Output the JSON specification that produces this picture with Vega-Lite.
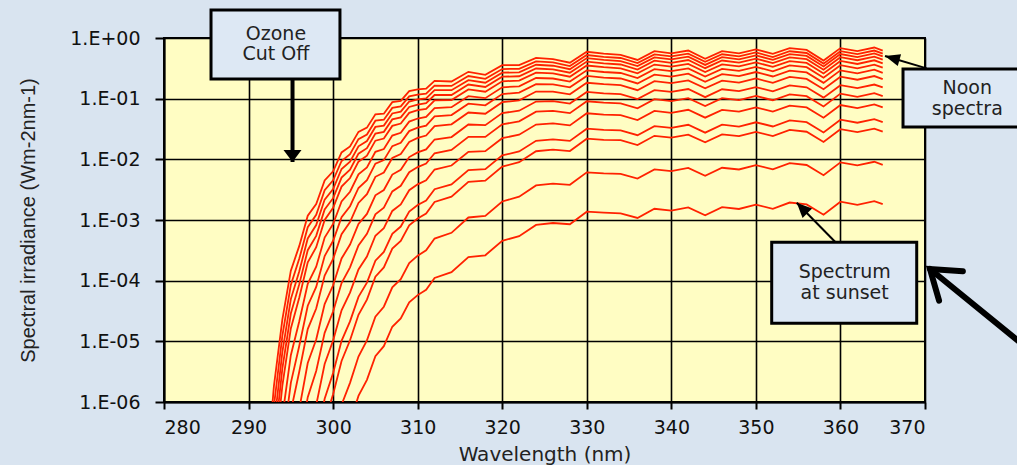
{
  "$schema": "https://vega.github.io/schema/vega-lite/v6.json",
  "width": 761,
  "height": 364,
  "autosize": {"type": "none"},
  "padding": {"left": 164, "top": 38, "right": 92, "bottom": 63},
  "background": "#D9E4F0",
  "config": {
    "view": {"fill": "#FFFDC3", "stroke": "#000000", "strokeWidth": 2},
    "axis": {
      "grid": true, "gridColor": "#000000", "gridWidth": 1.6, "gridOpacity": 1,
      "domainColor": "#000000", "domainWidth": 2,
      "tickColor": "#000000", "tickWidth": 2,
      "labelFont": "DejaVu Sans", "labelFontSize": 19, "labelColor": "#111111",
      "titleColor": "#222222", "titleFontWeight": "normal"
    }
  },
  "datasets": {
    "spectra": [
      {"w": 292, "c1": 4.1e-8, "c2": 1.6e-8},
      {"w": 293, "c1": 1.83e-6, "c2": 8.6e-7, "c3": 4.0e-7, "c4": 1.9e-7, "c5": 8.6e-8},
      {"w": 294, "c1": 2.31e-5, "c2": 1.24e-5, "c3": 6.7e-6, "c4": 3.57e-6, "c5": 1.87e-6, "c6": 5.8e-7, "c7": 1.7e-7},
      {"w": 295, "c1": 1.46e-4, "c2": 8.5e-5, "c3": 4.97e-5, "c4": 2.87e-5, "c5": 1.63e-5, "c6": 5.9e-6, "c7": 2.07e-6, "c8": 7.0e-7},
      {"w": 296, "c1": 3.74e-4, "c2": 2.31e-4, "c3": 1.43e-4, "c4": 8.77e-5, "c5": 5.27e-5, "c6": 2.14e-5, "c7": 8.45e-6, "c8": 3.18e-6, "c9": 7.7e-7, "c10": 1.8e-7},
      {"w": 297, "c1": 1.18e-3, "c2": 7.6e-4, "c3": 4.97e-4, "c4": 3.18e-4, "c5": 2.0e-4, "c6": 8.9e-5, "c7": 3.86e-5, "c8": 1.59e-5, "c9": 4.4e-6, "c10": 1.2e-6, "c11": 3.0e-7},
      {"w": 298, "c1": 1.83e-3, "c2": 1.22e-3, "c3": 8.24e-4, "c4": 5.47e-4, "c5": 3.56e-4, "c6": 1.7e-4, "c7": 7.9e-5, "c8": 3.48e-5, "c9": 1.07e-5, "c10": 3.24e-6, "c11": 8.9e-7, "c12": 2.2e-7},
      {"w": 299, "c1": 4.5e-3, "c2": 3.11e-3, "c3": 2.17e-3, "c4": 1.49e-3, "c5": 1.0e-3, "c6": 5.14e-4, "c7": 2.55e-4, "c8": 1.21e-4, "c9": 4.11e-5, "c10": 1.38e-5, "c11": 4.22e-6, "c12": 1.13e-6, "c13": 4.8e-7},
      {"w": 300, "c1": 6.35e-3, "c2": 4.52e-3, "c3": 3.24e-3, "c4": 2.29e-3, "c5": 1.59e-3, "c6": 8.6e-4, "c7": 4.54e-4, "c8": 2.28e-4, "c9": 8.4e-5, "c10": 3.1e-5, "c11": 1.03e-5, "c12": 3.0e-6, "c13": 1.34e-6, "c14": 2.4e-7},
      {"w": 301, "c1": 1.30e-2, "c2": 9.4e-3, "c3": 6.93e-3, "c4": 5.0e-3, "c5": 3.56e-3, "c6": 2.02e-3, "c7": 1.11e-3, "c8": 5.85e-4, "c9": 2.32e-4, "c10": 9.14e-5, "c11": 3.25e-5, "c12": 1.02e-5, "c13": 4.75e-6, "c14": 9.0e-7},
      {"w": 302, "c1": 1.63e-2, "c2": 1.22e-2, "c3": 9.14e-3, "c4": 6.77e-3, "c5": 4.92e-3, "c6": 2.92e-3, "c7": 1.69e-3, "c8": 9.27e-4, "c9": 3.94e-4, "c10": 1.66e-4, "c11": 6.34e-5, "c12": 2.13e-5, "c13": 1.04e-5, "c14": 2.07e-6, "c15": 4.6e-7},
      {"w": 303, "c1": 2.84e-2, "c2": 2.15e-2, "c3": 1.64e-2, "c4": 1.24e-2, "c5": 9.16e-3, "c6": 5.64e-3, "c7": 3.37e-3, "c8": 1.91e-3, "c9": 8.6e-4, "c10": 3.81e-4, "c11": 1.53e-4, "c12": 5.41e-5, "c13": 2.74e-5, "c14": 5.62e-6, "c15": 1.26e-6},
      {"w": 304, "c1": 3.33e-2, "c2": 2.57e-2, "c3": 2.0e-2, "c4": 1.53e-2, "c5": 1.15e-2, "c6": 7.35e-3, "c7": 4.54e-3, "c8": 2.67e-3, "c9": 1.26e-3, "c10": 5.9e-4, "c11": 2.5e-4, "c12": 9.29e-5, "c13": 4.86e-5, "c14": 1.04e-5, "c15": 2.32e-6},
      {"w": 305, "c1": 5.53e-2, "c2": 4.34e-2, "c3": 3.42e-2, "c4": 2.66e-2, "c5": 2.03e-2, "c6": 1.33e-2, "c7": 8.5e-3, "c8": 5.15e-3, "c9": 2.55e-3, "c10": 1.24e-3, "c11": 5.51e-4, "c12": 2.14e-4, "c13": 1.16e-4, "c14": 2.54e-5, "c15": 5.68e-6},
      {"w": 306, "c1": 5.66e-2, "c2": 4.5e-2, "c3": 3.6e-2, "c4": 2.84e-2, "c5": 2.2e-2, "c6": 1.48e-2, "c7": 9.7e-3, "c8": 6.05e-3, "c9": 3.12e-3, "c10": 1.59e-3, "c11": 7.33e-4, "c12": 2.97e-4, "c13": 1.65e-4, "c14": 3.72e-5, "c15": 8.32e-6},
      {"w": 307, "c1": 8.77e-2, "c2": 7.05e-2, "c3": 5.7e-2, "c4": 4.55e-2, "c5": 3.56e-2, "c6": 2.46e-2, "c7": 1.65e-2, "c8": 1.05e-2, "c9": 5.61e-3, "c10": 2.96e-3, "c11": 1.41e-3, "c12": 5.93e-4, "c13": 3.37e-4, "c14": 7.76e-5, "c15": 1.74e-5},
      {"w": 308, "c1": 9.18e-2, "c2": 7.45e-2, "c3": 6.1e-2, "c4": 4.91e-2, "c5": 3.89e-2, "c6": 2.74e-2, "c7": 1.87e-2, "c8": 1.22e-2, "c9": 6.71e-3, "c10": 3.66e-3, "c11": 1.8e-3, "c12": 7.8e-4, "c13": 4.52e-4, "c14": 1.06e-4, "c15": 2.38e-5},
      {"w": 309, "c1": 0.133, "c2": 0.109, "c3": 8.97e-2, "c4": 7.3e-2, "c5": 5.83e-2, "c6": 4.19e-2, "c7": 2.92e-2, "c8": 1.94e-2, "c9": 1.09e-2, "c10": 6.12e-3, "c11": 3.1e-3, "c12": 1.38e-3, "c13": 8.15e-4, "c14": 1.95e-4, "c15": 4.38e-5},
      {"w": 310, "c1": 0.142, "c2": 0.117, "c3": 9.77e-2, "c4": 8.0e-2, "c5": 6.46e-2, "c6": 4.71e-2, "c7": 3.33e-2, "c8": 2.25e-2, "c9": 1.3e-2, "c10": 7.46e-3, "c11": 3.87e-3, "c12": 1.77e-3, "c13": 1.06e-3, "c14": 2.58e-4, "c15": 5.78e-5},
      {"w": 311, "c1": 0.146, "c2": 0.121, "c3": 0.101, "c4": 8.4e-2, "c5": 6.79e-2, "c6": 5.02e-2, "c7": 3.6e-2, "c8": 2.47e-2, "c9": 1.46e-2, "c10": 8.53e-3, "c11": 4.52e-3, "c12": 2.1e-3, "c13": 1.28e-3, "c14": 3.16e-4, "c15": 7.08e-5},
      {"w": 312, "c1": 0.196, "c2": 0.164, "c3": 0.138, "c4": 0.115, "c5": 9.38e-2, "c6": 7.0e-2, "c7": 5.09e-2, "c8": 3.52e-2, "c9": 2.12e-2, "c10": 1.26e-2, "c11": 6.79e-3, "c12": 3.22e-3, "c13": 1.98e-3, "c14": 4.95e-4, "c15": 1.11e-4},
      {"w": 314, "c1": 0.192, "c2": 0.162, "c3": 0.138, "c4": 0.115, "c5": 9.5e-2, "c6": 7.24e-2, "c7": 5.36e-2, "c8": 3.78e-2, "c9": 2.33e-2, "c10": 1.43e-2, "c11": 7.91e-3, "c12": 3.85e-3, "c13": 2.42e-3, "c14": 6.15e-4, "c15": 1.38e-4},
      {"w": 316, "c1": 0.277, "c2": 0.236, "c3": 0.202, "c4": 0.171, "c5": 0.142, "c6": 0.11, "c7": 8.26e-2, "c8": 5.92e-2, "c9": 3.75e-2, "c10": 2.35e-2, "c11": 1.33e-2, "c12": 6.65e-3, "c13": 4.24e-3, "c14": 1.1e-3, "c15": 2.45e-4},
      {"w": 318, "c1": 0.247, "c2": 0.212, "c3": 0.183, "c4": 0.156, "c5": 0.13, "c6": 0.102, "c7": 7.78e-2, "c8": 5.65e-2, "c9": 3.66e-2, "c10": 2.34e-2, "c11": 1.36e-2, "c12": 6.9e-3, "c13": 4.46e-3, "c14": 1.17e-3, "c15": 2.62e-4},
      {"w": 320, "c1": 0.357, "c2": 0.308, "c3": 0.268, "c4": 0.23, "c5": 0.193, "c6": 0.154, "c7": 0.119, "c8": 8.75e-2, "c9": 5.78e-2, "c10": 3.78e-2, "c11": 2.23e-2, "c12": 1.16e-2, "c13": 7.6e-3, "c14": 2.02e-3, "c15": 4.53e-4},
      {"w": 322, "c1": 0.357, "c2": 0.31, "c3": 0.272, "c4": 0.234, "c5": 0.199, "c6": 0.16, "c7": 0.126, "c8": 9.38e-2, "c9": 6.32e-2, "c10": 4.22e-2, "c11": 2.55e-2, "c12": 1.35e-2, "c13": 8.97e-3, "c14": 2.42e-3, "c15": 5.42e-4},
      {"w": 324, "c1": 0.471, "c2": 0.412, "c3": 0.362, "c4": 0.314, "c5": 0.268, "c6": 0.219, "c7": 0.173, "c8": 0.131, "c9": 8.97e-2, "c10": 6.1e-2, "c11": 3.74e-2, "c12": 2.02e-2, "c13": 1.36e-2, "c14": 3.71e-3, "c15": 8.3e-4},
      {"w": 326, "c1": 0.45, "c2": 0.395, "c3": 0.349, "c4": 0.304, "c5": 0.261, "c6": 0.215, "c7": 0.172, "c8": 0.131, "c9": 9.1e-2, "c10": 6.27e-2, "c11": 3.9e-2, "c12": 2.14e-2, "c13": 1.45e-2, "c14": 3.99e-3, "c15": 8.93e-4},
      {"w": 328, "c1": 0.392, "c2": 0.345, "c3": 0.306, "c4": 0.268, "c5": 0.23, "c6": 0.191, "c7": 0.154, "c8": 0.118, "c9": 8.3e-2, "c10": 5.77e-2, "c11": 3.63e-2, "c12": 2.01e-2, "c13": 1.37e-2, "c14": 3.8e-3, "c15": 8.51e-4},
      {"w": 330, "c1": 0.593, "c2": 0.524, "c3": 0.466, "c4": 0.408, "c5": 0.352, "c6": 0.293, "c7": 0.237, "c8": 0.183, "c9": 0.129, "c10": 9.06e-2, "c11": 5.74e-2, "c12": 3.2e-2, "c13": 2.19e-2, "c14": 6.11e-3, "c15": 1.37e-3},
      {"w": 332, "c1": 0.553, "c2": 0.49, "c3": 0.436, "c4": 0.382, "c5": 0.33, "c6": 0.275, "c7": 0.223, "c8": 0.173, "c9": 0.122, "c10": 8.61e-2, "c11": 5.47e-2, "c12": 3.06e-2, "c13": 2.1e-2, "c14": 5.87e-3, "c15": 1.32e-3},
      {"w": 334, "c1": 0.528, "c2": 0.468, "c3": 0.417, "c4": 0.366, "c5": 0.316, "c6": 0.265, "c7": 0.215, "c8": 0.167, "c9": 0.119, "c10": 8.38e-2, "c11": 5.35e-2, "c12": 3.0e-2, "c13": 2.07e-2, "c14": 5.78e-3, "c15": 1.29e-3},
      {"w": 336, "c1": 0.435, "c2": 0.385, "c3": 0.344, "c4": 0.302, "c5": 0.261, "c6": 0.219, "c7": 0.178, "c8": 0.138, "c9": 9.84e-2, "c10": 6.95e-2, "c11": 4.45e-2, "c12": 2.5e-2, "c13": 1.72e-2, "c14": 4.82e-3, "c15": 1.08e-3},
      {"w": 338, "c1": 0.607, "c2": 0.537, "c3": 0.48, "c4": 0.422, "c5": 0.365, "c6": 0.306, "c7": 0.249, "c8": 0.194, "c9": 0.138, "c10": 9.79e-2, "c11": 6.27e-2, "c12": 3.53e-2, "c13": 2.44e-2, "c14": 6.84e-3, "c15": 1.53e-3},
      {"w": 340, "c1": 0.56, "c2": 0.497, "c3": 0.443, "c4": 0.39, "c5": 0.337, "c6": 0.284, "c7": 0.231, "c8": 0.18, "c9": 0.129, "c10": 9.12e-2, "c11": 5.85e-2, "c12": 3.3e-2, "c13": 2.28e-2, "c14": 6.4e-3, "c15": 1.43e-3},
      {"w": 342, "c1": 0.621, "c2": 0.551, "c3": 0.492, "c4": 0.434, "c5": 0.375, "c6": 0.315, "c7": 0.258, "c8": 0.2, "c9": 0.144, "c10": 0.102, "c11": 6.56e-2, "c12": 3.71e-2, "c13": 2.56e-2, "c14": 7.21e-3, "c15": 1.61e-3},
      {"w": 344, "c1": 0.455, "c2": 0.404, "c3": 0.36, "c4": 0.318, "c5": 0.275, "c6": 0.232, "c7": 0.19, "c8": 0.148, "c9": 0.106, "c10": 7.55e-2, "c11": 4.86e-2, "c12": 2.75e-2, "c13": 1.91e-2, "c14": 5.36e-3, "c15": 1.2e-3},
      {"w": 346, "c1": 0.607, "c2": 0.539, "c3": 0.482, "c4": 0.425, "c5": 0.368, "c6": 0.31, "c7": 0.254, "c8": 0.198, "c9": 0.143, "c10": 0.102, "c11": 6.55e-2, "c12": 3.72e-2, "c13": 2.58e-2, "c14": 7.26e-3, "c15": 1.63e-3},
      {"w": 348, "c1": 0.56, "c2": 0.498, "c3": 0.445, "c4": 0.393, "c5": 0.34, "c6": 0.288, "c7": 0.236, "c8": 0.184, "c9": 0.133, "c10": 9.46e-2, "c11": 6.11e-2, "c12": 3.47e-2, "c13": 2.41e-2, "c14": 6.8e-3, "c15": 1.52e-3},
      {"w": 350, "c1": 0.65, "c2": 0.578, "c3": 0.518, "c4": 0.457, "c5": 0.396, "c6": 0.335, "c7": 0.275, "c8": 0.215, "c9": 0.155, "c10": 0.111, "c11": 7.18e-2, "c12": 4.08e-2, "c13": 2.84e-2, "c14": 8.02e-3, "c15": 1.79e-3},
      {"w": 352, "c1": 0.547, "c2": 0.486, "c3": 0.436, "c4": 0.385, "c5": 0.334, "c6": 0.283, "c7": 0.232, "c8": 0.182, "c9": 0.132, "c10": 9.42e-2, "c11": 6.11e-2, "c12": 3.48e-2, "c13": 2.42e-2, "c14": 6.84e-3, "c15": 1.53e-3},
      {"w": 354, "c1": 0.681, "c2": 0.605, "c3": 0.543, "c4": 0.48, "c5": 0.417, "c6": 0.353, "c7": 0.29, "c8": 0.228, "c9": 0.165, "c10": 0.118, "c11": 7.67e-2, "c12": 4.39e-2, "c13": 3.05e-2, "c14": 8.65e-3, "c15": 1.94e-3},
      {"w": 356, "c1": 0.635, "c2": 0.566, "c3": 0.507, "c4": 0.448, "c5": 0.389, "c6": 0.33, "c7": 0.271, "c8": 0.212, "c9": 0.154, "c10": 0.11, "c11": 7.16e-2, "c12": 4.09e-2, "c13": 2.85e-2, "c14": 8.07e-3, "c15": 1.81e-3},
      {"w": 358, "c1": 0.425, "c2": 0.378, "c3": 0.339, "c4": 0.3, "c5": 0.261, "c6": 0.221, "c7": 0.182, "c8": 0.143, "c9": 0.104, "c10": 7.45e-2, "c11": 4.84e-2, "c12": 2.77e-2, "c13": 1.93e-2, "c14": 5.47e-3, "c15": 1.22e-3},
      {"w": 360, "c1": 0.681, "c2": 0.607, "c3": 0.545, "c4": 0.482, "c5": 0.419, "c6": 0.356, "c7": 0.293, "c8": 0.23, "c9": 0.167, "c10": 0.121, "c11": 7.85e-2, "c12": 4.5e-2, "c13": 3.14e-2, "c14": 8.91e-3, "c15": 2.0e-3},
      {"w": 362, "c1": 0.607, "c2": 0.541, "c3": 0.485, "c4": 0.43, "c5": 0.373, "c6": 0.317, "c7": 0.261, "c8": 0.205, "c9": 0.149, "c10": 0.107, "c11": 7.0e-2, "c12": 4.01e-2, "c13": 2.8e-2, "c14": 7.94e-3, "c15": 1.78e-3},
      {"w": 364, "c1": 0.697, "c2": 0.621, "c3": 0.557, "c4": 0.493, "c5": 0.429, "c6": 0.364, "c7": 0.3, "c8": 0.236, "c9": 0.171, "c10": 0.123, "c11": 8.04e-2, "c12": 4.6e-2, "c13": 3.21e-2, "c14": 9.12e-3, "c15": 2.04e-3},
      {"w": 365, "c1": 0.621, "c2": 0.553, "c3": 0.497, "c4": 0.44, "c5": 0.382, "c6": 0.324, "c7": 0.267, "c8": 0.21, "c9": 0.153, "c10": 0.11, "c11": 7.16e-2, "c12": 4.1e-2, "c13": 2.86e-2, "c14": 8.13e-3, "c15": 1.82e-3}
    ],
    "boxes": [
      {"name": "ozone", "x": 285.56, "x2": 300.81, "y": 2.894, "y2": 0.211},
      {"name": "noon", "x": 367.4, "x2": 381.8, "y": 0.308, "y2": 0.0341},
      {"name": "sunset", "x": 351.87, "x2": 369.02, "y": 4.29e-4, "y2": 1.98e-5}
    ],
    "labels": [
      {"x": 293.24, "y": 1.186, "t": "Ozone"},
      {"x": 293.24, "y": 0.535, "t": "Cut Off"},
      {"x": 375.0, "y": 0.15, "t": "Noon"},
      {"x": 375.0, "y": 0.0676, "t": "spectra"},
      {"x": 360.5, "y": 1.41e-4, "t": "Spectrum"},
      {"x": 360.5, "y": 6.19e-5, "t": "at sunset"}
    ],
    "arrows": [
      {"name": "ozone", "x": 295.2, "y": 0.211, "x2": 295.2, "y2": 0.00904},
      {"name": "noon", "x": 370.2, "y": 0.316, "x2": 365.27, "y2": 0.505},
      {"name": "sunset", "x": 359.36, "y": 4.39e-4, "x2": 354.83, "y2": 1.93e-3},
      {"name": "big", "x": 384.8, "y": 3.78e-6, "x2": 370.59, "y2": 1.558e-4}
    ]
  },
  "layer": [
    {
      "data": {"name": "spectra"},
      "transform": [
        {"fold": ["c1", "c2", "c3", "c4", "c5", "c6", "c7", "c8", "c9", "c10", "c11", "c12", "c13", "c14", "c15"], "as": ["key", "value"]},
        {"filter": "isValid(datum.value)"}
      ],
      "mark": {"type": "line", "color": "#FF2200", "strokeWidth": 1.8, "clip": true},
      "encoding": {
        "x": {
          "field": "w", "type": "quantitative",
          "scale": {"domain": [280, 370], "nice": false, "zero": false},
          "axis": {
            "values": [280, 290, 300, 310, 320, 330, 340, 350, 360, 370],
            "title": "Wavelength (nm)", "titleFont": "DejaVu Sans", "titleFontSize": 20, "titlePadding": 7,
            "tickSize": 7, "labelPadding": 9
          }
        },
        "y": {
          "field": "value", "type": "quantitative",
          "scale": {"type": "log", "domain": [1e-6, 1], "nice": false},
          "axis": {
            "values": [1e-6, 1e-5, 1e-4, 1e-3, 1e-2, 1e-1, 1],
            "labelExpr": "'1.E' + (datum.value >= 0.999 ? '+00' : '-0' + format(-round(log(datum.value) / LN10), 'd'))",
            "title": "Spectral irradiance (Wm-2nm-1)", "titleFont": "Liberation Sans", "titleFontSize": 20, "titlePadding": 31,
            "tickSize": 9, "labelPadding": 15
          }
        },
        "detail": {"field": "key"}
      }
    },
    {
      "data": {"name": "arrows"},
      "transform": [{"filter": "datum.name == 'noon' || datum.name == 'sunset'"}],
      "mark": {"type": "rule", "color": "#000000", "strokeWidth": 2, "clip": false},
      "encoding": {
        "x": {"field": "x", "type": "quantitative"},
        "x2": {"field": "x2"},
        "y": {"field": "y", "type": "quantitative"},
        "y2": {"field": "y2"}
      }
    },
    {
      "data": {"name": "arrows"},
      "transform": [{"filter": "datum.name == 'ozone'"}],
      "mark": {"type": "rule", "color": "#000000", "strokeWidth": 4, "clip": false},
      "encoding": {
        "x": {"field": "x", "type": "quantitative"},
        "x2": {"field": "x2"},
        "y": {"field": "y", "type": "quantitative"},
        "y2": {"field": "y2"}
      }
    },
    {
      "data": {"name": "arrows"},
      "transform": [{"filter": "datum.name == 'big'"}],
      "mark": {"type": "rule", "color": "#000000", "strokeWidth": 6, "strokeCap": "round", "clip": false},
      "encoding": {
        "x": {"field": "x", "type": "quantitative"},
        "x2": {"field": "x2"},
        "y": {"field": "y", "type": "quantitative"},
        "y2": {"field": "y2"}
      }
    },
    {
      "data": {"name": "boxes"},
      "mark": {"type": "rect", "fill": "#DDE8F4", "stroke": "#000000", "strokeWidth": 3, "clip": false},
      "encoding": {
        "x": {"field": "x", "type": "quantitative"},
        "x2": {"field": "x2"},
        "y": {"field": "y", "type": "quantitative"},
        "y2": {"field": "y2"}
      }
    },
    {
      "data": {"name": "labels"},
      "mark": {"type": "text", "font": "DejaVu Sans", "fontSize": 19, "color": "#222222", "align": "center", "baseline": "middle", "clip": false},
      "encoding": {
        "x": {"field": "x", "type": "quantitative"},
        "y": {"field": "y", "type": "quantitative"},
        "text": {"field": "t"}
      }
    },
    {
      "data": {"name": "arrows"},
      "transform": [{"filter": "datum.name == 'ozone'"}],
      "mark": {"type": "point", "shape": "M0,0L-0.75,1L0.75,1Z", "size": 576, "angle": 180, "filled": true, "color": "#000000", "opacity": 1, "clip": false},
      "encoding": {
        "x": {"field": "x2", "type": "quantitative"},
        "y": {"field": "y2", "type": "quantitative"}
      }
    },
    {
      "data": {"name": "arrows"},
      "transform": [{"filter": "datum.name == 'noon'"}],
      "mark": {"type": "point", "shape": "M0,0L-0.4,1L0.4,1Z", "size": 900, "angle": 286, "filled": true, "color": "#000000", "opacity": 1, "clip": false},
      "encoding": {
        "x": {"field": "x2", "type": "quantitative"},
        "y": {"field": "y2", "type": "quantitative"}
      }
    },
    {
      "data": {"name": "arrows"},
      "transform": [{"filter": "datum.name == 'sunset'"}],
      "mark": {"type": "point", "shape": "M0,0L-0.45,1L0.45,1Z", "size": 900, "angle": 315, "filled": true, "color": "#000000", "opacity": 1, "clip": false},
      "encoding": {
        "x": {"field": "x2", "type": "quantitative"},
        "y": {"field": "y2", "type": "quantitative"}
      }
    },
    {
      "data": {"name": "arrows"},
      "transform": [{"filter": "datum.name == 'big'"}],
      "mark": {"type": "point", "shape": "M-0.7,1L0,0L0.7,1", "size": 2916, "angle": 309, "filled": false, "stroke": "#000000", "strokeWidth": 6, "strokeCap": "round", "strokeJoin": "miter", "opacity": 1, "clip": false},
      "encoding": {
        "x": {"field": "x2", "type": "quantitative"},
        "y": {"field": "y2", "type": "quantitative"}
      }
    }
  ]
}
